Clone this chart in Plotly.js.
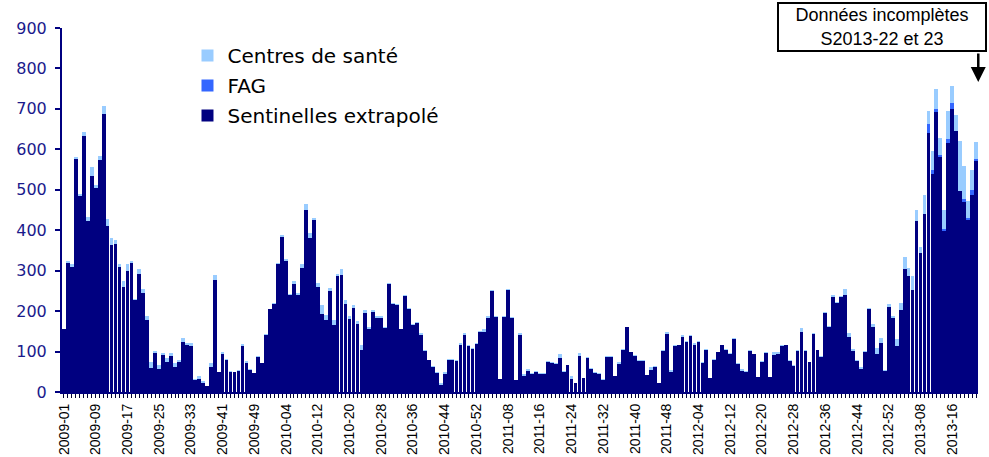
<!DOCTYPE html>
<html><head><meta charset="utf-8">
<script src="https://cdn.plot.ly/plotly-3.0.1.min.js"></script>
<style>html,body{margin:0;padding:0;background:#fff;}#chart{width:989px;height:457px;}</style>
</head><body><div id="chart"></div><script>
// Week categories
const years = [2009, 2010, 2011, 2012, 2013];
const weeksPerYear = [53, 52, 52, 52, 22];
const labelEvery = 8;

// Sentinelles extrapolé (weekly)
const sent2009 = [155,318,310,577,485,632,423,533,504,573,687,411,364,365,310,260,298,318,228,293,244,178,60,96,58,91,73,90,63,75,123,115,113,29,32,23,14,63,278,49,95,78,49,50,52,113,72,55,47,86,72,141,204];
const sent2010 = [218,317,383,323,239,266,239,306,451,380,425,260,193,179,249,165,286,290,218,181,208,168,105,195,156,197,183,183,158,268,218,215,155,238,204,165,171,142,102,78,62,47,18,45,80,80,77,116,141,113,107,119];
const sent2011 = [148,148,183,249,186,31,186,252,183,30,140,40,53,45,49,45,45,74,72,69,83,50,66,33,22,88,34,84,57,47,45,29,86,86,39,70,105,160,98,90,77,76,41,55,62,22,101,143,50,114,116,136];
const sent2012 = [124,139,117,123,72,105,35,80,98,115,105,95,132,70,53,50,102,93,36,74,96,37,92,93,113,115,77,65,101,148,101,73,144,103,86,196,160,236,221,235,241,136,102,76,57,99,205,160,93,120,52,211];
const sent2013 = [183,113,202,304,286,252,422,344,441,641,538,692,582,397,616,699,645,497,469,425,487,571];

// FAG (only visible in 2013, weeks 01-22)
const fag2013 = [0,0,0,0,0,0,0,0,0,21,12,7,5,6,9,16,0,0,7,6,12,6];

// Centres de santé
const cs2009 = [0,7,7,5,4,11,10,24,8,11,19,17,17,10,7,15,19,7,3,10,11,11,13,5,8,6,12,7,9,4,10,6,8,2,7,3,0,9,12,0,3,4,2,0,3,6,4,3,0,4,0,2,1];
const cs2010 = [2,2,5,6,3,9,6,11,15,12,5,10,21,12,7,12,7,13,9,6,6,7,10,7,5,5,4,6,2,2,3,3,2,2,3,2,3,4,3,2,2,2,4,4,2,2,3,4,4,3,3,2];
const cs2011 = [3,8,4,3,2,0,3,3,3,0,6,5,4,2,3,2,2,3,3,3,10,2,2,6,0,9,0,3,3,3,2,2,2,2,0,3,2,0,2,2,2,2,2,7,2,0,3,5,4,2,0,4];
const cs2012 = [2,2,3,3,2,2,0,2,0,0,2,1,2,2,4,1,3,2,1,3,2,1,7,6,2,2,2,1,2,10,2,2,2,2,2,2,2,3,2,2,13,10,5,2,5,2,2,8,15,14,2,7];
const cs2013 = [5,17,19,30,21,36,28,15,46,34,46,49,42,47,71,42,39,123,84,41,49,42];

const weeks = [];
years.forEach((y, i) => {
  for (let w = 1; w <= weeksPerYear[i]; w++) weeks.push(y + '-' + String(w).padStart(2, '0'));
});
const tickText = weeks.map((w, i) => (i % labelEvery === 0 ? w : ''));
const sentinelles = [].concat(sent2009, sent2010, sent2011, sent2012, sent2013);
const centres = [].concat(cs2009, cs2010, cs2011, cs2012, cs2013);
const weeks2013 = weeks.slice(weeks.length - fag2013.length);

const traces = [
  {type:'bar', name:'Sentinelles extrapolé', x:weeks, y:sentinelles, marker:{color:'#000080'}, legendgroup:'a', legendrank:3},
  {type:'bar', name:'FAG', x:weeks2013, y:fag2013, marker:{color:'#3366FF'}, legendgroup:'b', legendrank:2},
  {type:'bar', name:'Centres de santé', x:weeks, y:centres, marker:{color:'#99CCFF'}, legendgroup:'c', legendrank:1}
];

const layout = {
  width:989, height:457,
  margin:{l:62, r:11, t:28, b:65, pad:0},
  paper_bgcolor:'#ffffff', plot_bgcolor:'#ffffff',
  barmode:'stack', bargap:0.05,
  font:{family:'Liberation Sans, Arial, sans-serif', color:'#000'},
  showlegend:true,
  legend:{x:0.137, y:0.978, xanchor:'left', yanchor:'top', traceorder:'grouped', tracegroupgap:1,
          bgcolor:'rgba(0,0,0,0)', font:{family:'DejaVu Sans', size:20, color:'#000'}},
  xaxis:{type:'category', tickmode:'array', tickvals:weeks, ticktext:tickText, tickangle:-90,
         tickfont:{family:'Liberation Sans, Arial', size:14, color:'#000'},
         ticks:'outside', ticklen:4, tickwidth:1, tickcolor:'#000033',
         showline:true, linecolor:'#000080', linewidth:2, showgrid:false, zeroline:false,
         range:[-0.5, weeks.length - 0.5], automargin:false, fixedrange:true},
  yaxis:{range:[0,900], tick0:0, dtick:100, ticks:'outside', ticklen:5, tickwidth:2, tickcolor:'#000080',
         showline:true, linecolor:'#000080', linewidth:2, showgrid:false, zeroline:false,
         tickfont:{family:'DejaVu Sans', size:16, color:'#1a1a8c'}, ticklabelstandoff:5, automargin:false, fixedrange:true},
  annotations:[
    {xref:'paper', yref:'paper', x:(882-62)/916, y:(392-27)/364, xanchor:'center', yanchor:'middle',
     text:'Données incomplètes<br>S2013-22 et 23', showarrow:false, align:'center',
     font:{family:'Liberation Sans, Arial', size:18, color:'#000'},
     bordercolor:'#000', borderwidth:2, borderpad:3, bgcolor:'#fff', width:200, height:40},
    {xref:'paper', yref:'paper', x:1.0003, y:(392-82)/364, ax:0, ay:-30, text:'', showarrow:true,
     arrowhead:2, arrowsize:1.2, arrowwidth:2.5, arrowcolor:'#000'}
  ]
};

Plotly.newPlot('chart', traces, layout, {displayModeBar:false, staticPlot:true});
</script></body></html>
